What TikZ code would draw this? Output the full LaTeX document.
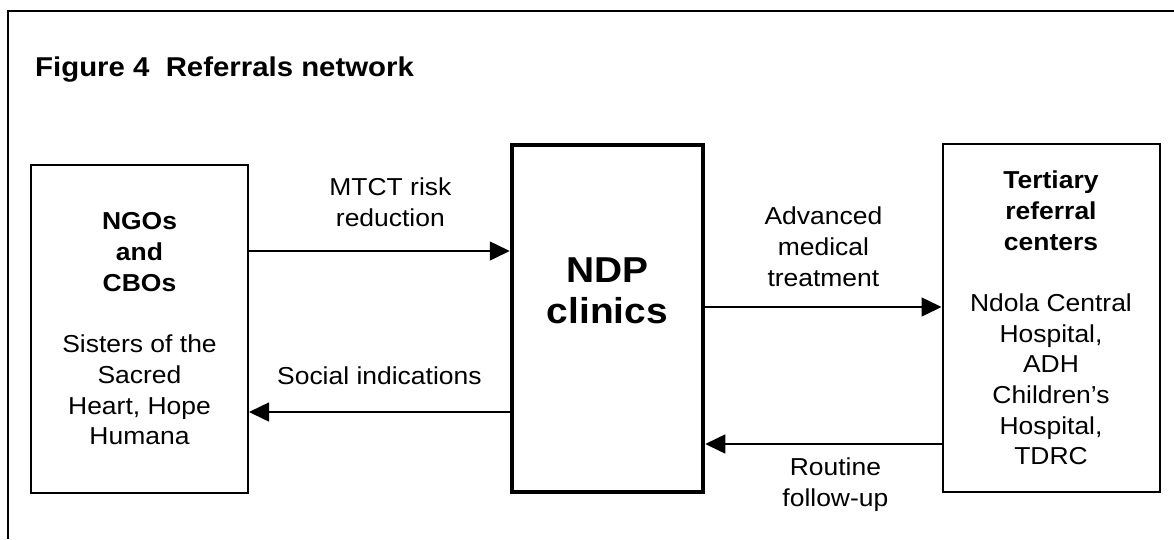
\documentclass[tikz,border=0pt]{standalone}
\usepackage{fontspec}
\setmainfont{Liberation Sans}[FakeStretch=1.08]
\usetikzlibrary{arrows.meta}
\begin{document}
\begin{tikzpicture}[x=1pt,y=-1pt,
  txt/.style={inner sep=0pt,align=center,font=\fontsize{24.5}{30.7}\selectfont},
  box/.style={txt,draw,line width=2pt,minimum width=217pt,minimum height=328pt},
  mainbox/.style={box,line width=4.5pt,minimum width=191pt,minimum height=347pt},
  arr/.style={line width=1.5pt,-{Triangle[length=20pt,width=19pt]}}]
  \useasboundingbox (0,0) rectangle (1174,539);
  % frame and title
  \draw[line width=2pt] (7.5,539) |- (1174,10.5);
  \node[anchor=base west,inner sep=0pt,font=\bfseries\fontsize{27.2}{33}\selectfont]
    (title) at (35,76.5) {Figure 4\ \ Referrals network};
  % the three boxes
  \node[box] (ngo) at (139.5,329)
    {\textbf{NGOs}\\\textbf{and}\\\textbf{CBOs}\\[30.7pt]Sisters of the\\Sacred\\Heart, Hope\\Humana};
  \node[mainbox] (ndp) at (607.5,318.5) {};
  \node[txt,font=\bfseries\fontsize{36}{41}\selectfont] (ndptext) at ([yshift=28pt]ndp.center) {NDP\\clinics};
  \node[box,minimum height=348pt] (tert) at (1051,318)
    {\textbf{Tertiary}\\\textbf{referral}\\\textbf{centers}\\[30.7pt]Ndola Central\\Hospital,\\ADH\\Children’s\\Hospital,\\TDRC};
  % referrals
  \path ([yshift=78pt]ngo.east) coordinate (mtct)
        ([yshift=-83pt]ngo.east) coordinate (soc)
        ([yshift=11pt]tert.west) coordinate (adv)
        ([yshift=-126pt]tert.west) coordinate (rout);
  \draw[arr] (mtct) -- node[txt,above=24pt,xshift=11pt] (mtctlabel) {MTCT risk\\reduction} (mtct -| ndp.west);
  \draw[arr] (soc -| ndp.west) -- node[txt,above=27pt] (soclabel) {Social indications} (soc);
  \draw[arr] (adv -| ndp.east) -- node[txt,above=20pt] (advlabel) {Advanced\\medical\\treatment} (adv);
  \draw[arr] (rout) -- node[txt,below=13pt,xshift=12pt] (routlabel) {Routine\\follow-up} (rout -| ndp.east);
\end{tikzpicture}
\end{document}
